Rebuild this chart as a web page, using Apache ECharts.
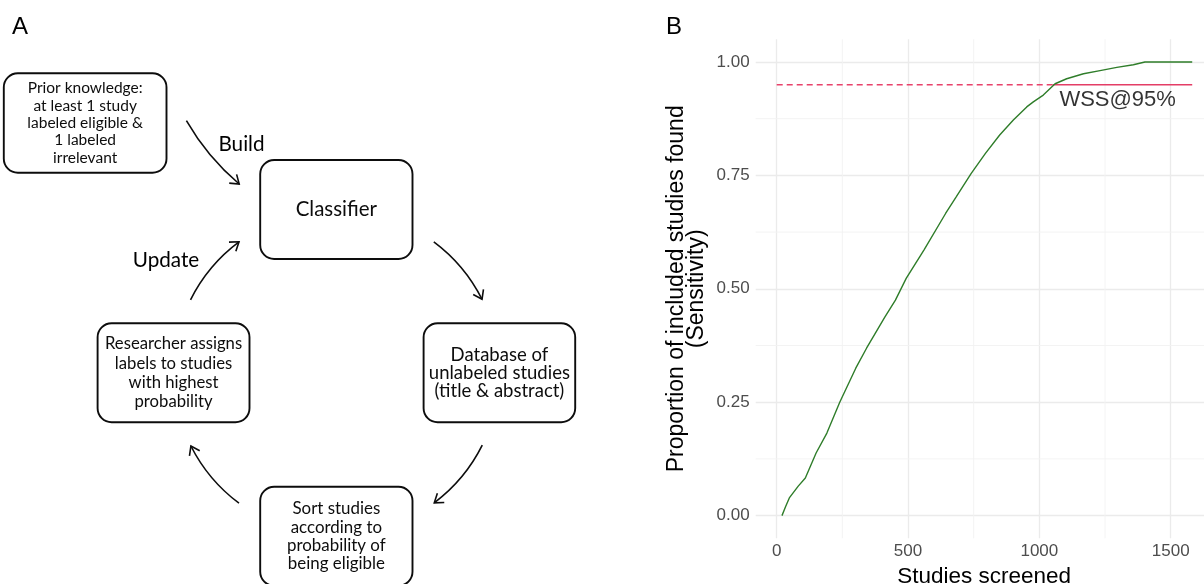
<!DOCTYPE html>
<html>
<head>
<meta charset="utf-8">
<script src="https://cdn.jsdelivr.net/npm/echarts@6/dist/echarts.min.js"></script>
<style>
  html, body { margin: 0; padding: 0; background: #fff; }
  #chart { width: 1204px; height: 584px; }
</style>
</head>
<body>
<div id="chart"></div>
<script>
// panel B: cumulative sensitivity curve
const curveX = [20, 34, 48, 82, 109, 150, 191, 240, 301, 342, 411, 452, 493, 561, 643, 684, 740, 794, 849, 901, 952, 977, 1015, 1060, 1104, 1168, 1231, 1295, 1358, 1402, 1582]
const curveY = [0, 0.02, 0.039, 0.065, 0.083, 0.138, 0.182, 0.25, 0.325, 0.369, 0.437, 0.475, 0.523, 0.586, 0.666, 0.703, 0.754, 0.798, 0.839, 0.872, 0.901, 0.912, 0.927, 0.952, 0.963, 0.974, 0.981, 0.988, 0.994, 1.0, 1.0]
// WSS reference line: dashed up to the crossing, solid after
const refLevel = 0.95
const refLineX = [0, 1050, 1582]
const wssLabelPos = [1298, 0.917]
// minor grid (ggplot minor breaks)
const minorX = [250, 750, 1250]
const minorY = [0.125, 0.375, 0.625, 0.875]

// panel A: texts of the diagram
const priorText = ['Prior knowledge:', 'at least 1 study', 'labeled eligible &', '1 labeled', 'irrelevant']
const classifierText = ['Classifier']
const databaseText = ['Database of', 'unlabeled studies', '(title & abstract)']
const sortText = ['Sort studies', 'according to', 'probability of', 'being eligible']
const researcherText = ['Researcher assigns', 'labels to studies', 'with highest', 'probability']
const arrowLabels = ['Build', 'Update']

const INK = '#0d0d0d'
const DIAG_FONT = 'Lato'
const CHART_FONT = 'Liberation Sans'
const X_MIN = -80, X_MAX = 1660, Y_MIN = -0.05, Y_MAX = 1.05

// cycle arcs share one circle
const CX = 336.4, CY = 372.5, R = 163

function arrowHead(tip, dir) {
  const L = 10, a = 35 * Math.PI / 180
  const bx = -dir[0], by = -dir[1]
  const rot = (s) => [
    tip[0] + L * (bx * Math.cos(s * a) - by * Math.sin(s * a)),
    tip[1] + L * (bx * Math.sin(s * a) + by * Math.cos(s * a))
  ]
  return {
    type: 'polyline',
    shape: { points: [rot(1), tip, rot(-1)] },
    style: { stroke: INK, lineWidth: 1.6, fill: 'none' }
  }
}

function arcArrow(a0, a1) {
  const t0 = a0 * Math.PI / 180, t1 = a1 * Math.PI / 180
  const tip = [CX + R * Math.cos(t1), CY + R * Math.sin(t1)]
  return [
    {
      type: 'arc',
      shape: { cx: CX, cy: CY, r: R, startAngle: t0, endAngle: t1, clockwise: true },
      style: { stroke: INK, lineWidth: 1.6, fill: 'none' }
    },
    arrowHead(tip, [-Math.sin(t1), Math.cos(t1)])
  ]
}

function box(x, y, w, h, lines, size, lh) {
  return [
    {
      type: 'rect',
      shape: { x: x, y: y, width: w, height: h, r: 14 },
      style: { fill: '#fff', stroke: INK, lineWidth: 1.9 }
    },
    {
      type: 'text',
      x: x + w / 2,
      y: y + h / 2,
      style: {
        text: lines.join('\n'), fill: INK, fontSize: size, fontFamily: DIAG_FONT,
        align: 'center', verticalAlign: 'middle', lineHeight: lh
      }
    }
  ]
}

function label(x, y, text, size, family) {
  return {
    type: 'text', x: x, y: y,
    style: { text: text, fill: '#000', fontSize: size, fontFamily: family, align: 'center', verticalAlign: 'middle' }
  }
}

const buildStart = [186.4, 120.7], buildCtrl = [207.6, 157.5], buildEnd = [239.2, 184]
const bd = [buildEnd[0] - buildCtrl[0], buildEnd[1] - buildCtrl[1]]
const bn = Math.hypot(bd[0], bd[1])

const graphics = [].concat(
  label(20, 27, 'A', 24, CHART_FONT),
  label(674, 27, 'B', 24, CHART_FONT),
  box(3.8, 73.3, 162.7, 99.4, priorText, 15.5, 17.3),
  box(260.2, 160, 152.3, 99, classifierText, 20.5, 22),
  box(423.6, 323.3, 151.6, 99, databaseText, 18.5, 17.8),
  box(97.6, 323.3, 151.9, 99, researcherText, 16.7, 19.2),
  box(260.2, 486.7, 152.3, 99, sortText, 16.9, 18.3),
  {
    type: 'bezierCurve',
    shape: { x1: buildStart[0], y1: buildStart[1], cpx1: buildCtrl[0], cpy1: buildCtrl[1], x2: buildEnd[0], y2: buildEnd[1] },
    style: { stroke: INK, lineWidth: 1.6, fill: 'none' }
  },
  arrowHead(buildEnd, [bd[0] / bn, bd[1] / bn]),
  arcArrow(-53.3, -26.7),
  arcArrow(26.5, 53.1),
  arcArrow(126.7, 153.2),
  arcArrow(206.5, 233.3),
  label(241.5, 144, arrowLabels[0], 20.7, DIAG_FONT),
  label(166, 260.5, arrowLabels[1], 20.7, DIAG_FONT)
)

// minor grid lines as plain segments through the axes, under the curve
const minorSeries = minorX.map(v => [[v, Y_MIN], [v, Y_MAX]])
  .concat(minorY.map(v => [[X_MIN, v], [X_MAX, v]]))
  .map(seg => ({
    type: 'line',
    data: seg,
    symbol: 'none',
    silent: true,
    z: 1,
    lineStyle: { color: '#f2f2f2', width: 0.9 }
  }))

const option = {
  animation: false,
  backgroundColor: '#fff',
  textStyle: { fontFamily: CHART_FONT },
  graphic: graphics,
  grid: {
    left: 755.7, top: 39.3, width: 457, height: 499,
    containLabel: false, outerBoundsMode: 'none'
  },
  xAxis: {
    type: 'value',
    min: X_MIN,
    max: X_MAX,
    minInterval: 500,
    maxInterval: 500,
    axisLine: { show: false },
    axisTick: { show: false },
    axisLabel: {
      color: '#4d4d4d', fontSize: 17, margin: 5, showMinLabel: false, showMaxLabel: false,
      formatter: v => String(v)
    },
    splitLine: { show: true, showMinLine: false, showMaxLine: false, lineStyle: { color: '#ebebeb', width: 1.3 } },
    name: 'Studies screened',
    nameLocation: 'middle',
    nameGap: 25,
    nameTextStyle: { color: '#000', fontSize: 22.5 }
  },
  yAxis: {
    type: 'value',
    min: Y_MIN,
    max: Y_MAX,
    minInterval: 0.25,
    maxInterval: 0.25,
    axisLine: { show: false },
    axisTick: { show: false },
    axisLabel: {
      color: '#4d4d4d', fontSize: 17, margin: 6, showMinLabel: false, showMaxLabel: false,
      formatter: v => v.toFixed(2)
    },
    splitLine: { show: true, showMinLine: false, showMaxLine: false, lineStyle: { color: '#ebebeb', width: 1.3 } },
    name: 'Proportion of included studies found\n(Sensitivity)',
    nameLocation: 'middle',
    nameRotate: 90,
    nameGap: 49,
    nameTextStyle: { color: '#000', fontSize: 23, lineHeight: 20, align: 'center' }
  },
  series: minorSeries.concat([
    {
      type: 'line',
      data: [[refLineX[0], refLevel], [refLineX[1], refLevel]],
      symbol: 'none',
      lineStyle: { color: '#e8426b', width: 1.5, type: [6, 4] },
      z: 2
    },
    {
      type: 'line',
      data: [[refLineX[1], refLevel], [refLineX[2], refLevel]],
      symbol: 'none',
      lineStyle: { color: '#e43d66', width: 1.5 },
      z: 2
    },
    {
      type: 'line',
      data: curveX.map((x, i) => [x, curveY[i]]),
      symbol: 'none',
      lineStyle: { color: '#2f7d2a', width: 1.4 },
      z: 3
    },
    {
      type: 'scatter',
      data: [wssLabelPos],
      symbolSize: 0,
      label: {
        show: true, position: 'inside', formatter: 'WSS@95%', fontSize: 22,
        color: '#000', textBorderWidth: 0
      },
      z: 4
    }
  ])
}

echarts.init(document.getElementById('chart')).setOption(option)
</script>
</body>
</html>
